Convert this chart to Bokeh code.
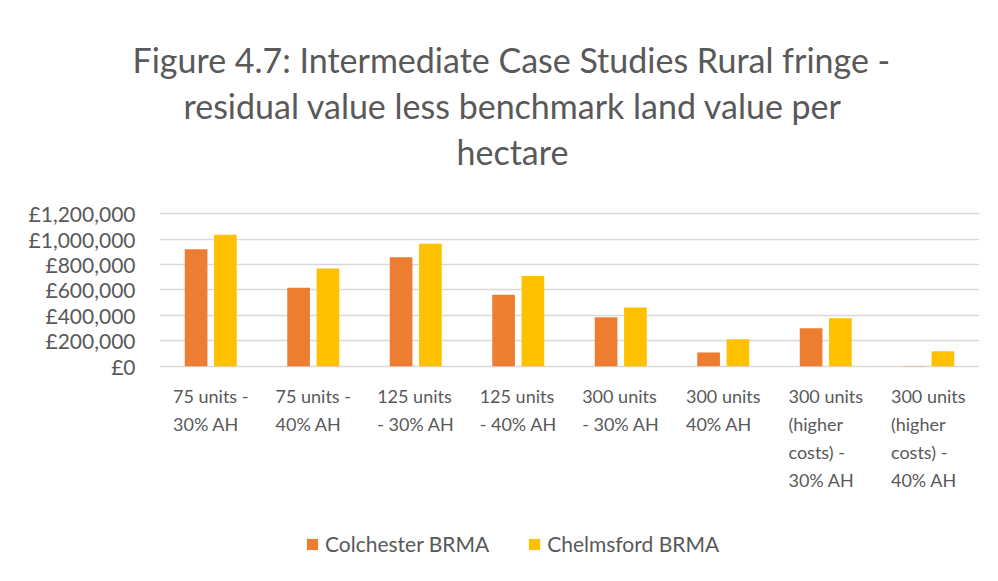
from bokeh.plotting import figure
from bokeh.models import (FactorRange, Range1d, FixedTicker, Legend, LegendItem,
                          Title, LabelSet, ColumnDataSource)
from bokeh.core.properties import value
from bokeh.transform import dodge
from bokeh.embed import file_html
from bokeh.resources import INLINE

category_labels = ["75 units -\n30% AH", "75 units -\n40% AH", "125 units\n- 30% AH",
                   "125 units\n- 40% AH", "300 units\n- 30% AH", "300 units\n40% AH",
                   "300 units\n(higher\ncosts) -\n30% AH", "300 units\n(higher\ncosts) -\n40% AH"]
colchester = [921000, 618000, 857000, 563000, 385000, 108000, 299000, 2000]
chelmsford = [1035000, 770000, 964000, 710000, 461000, 212000, 377000, 118000]
series_names = ["Colchester BRMA", "Chelmsford BRMA"]
tick_values = [0, 200000, 400000, 600000, 800000, 1000000, 1200000]
tick_labels = ["£0", "£200,000", "£400,000", "£600,000", "£800,000", "£1,000,000", "£1,200,000"]
title_lines = ["Figure 4.7: Intermediate Case Studies Rural fringe -",
               "residual value less benchmark land value per",
               "hectare"]

FONT = "Lato"
GREY = "#595959"

src = ColumnDataSource(dict(cat=category_labels, col=colchester, che=chelmsford,
                            zero=[0] * len(category_labels)))

# the plot area extends below zero so that the category labels and legend live inside it
p = figure(width=998, height=581, x_range=FactorRange(*category_labels),
           y_range=Range1d(-1695500, 1210000), output_backend="svg", toolbar_location=None,
           min_border_left=159, min_border_right=19, min_border_top=212, min_border_bottom=0)
p.x_range.range_padding = 0
p.outline_line_color = None
p.background_fill_color = "white"
p.border_fill_color = "white"

r1 = p.vbar(x=dodge("cat", -0.143, range=p.x_range), top="col", width=0.221, source=src,
            fill_color="#ED7D31", line_color=None)
r2 = p.vbar(x=dodge("cat", 0.143, range=p.x_range), top="che", width=0.221, source=src,
            fill_color="#FFC000", line_color=None)

p.xaxis.visible = False
p.xgrid.grid_line_color = None
p.ygrid.grid_line_color = "#D9D9D9"
p.ygrid.grid_line_width = 1.3

ya = p.yaxis[0]
ya.ticker = FixedTicker(ticks=tick_values)
ya.major_label_overrides = {v: l for v, l in zip(tick_values, tick_labels)}
ya.axis_line_color = None
ya.major_tick_line_color = None
ya.minor_tick_line_color = None
ya.major_tick_out = 0
ya.major_tick_in = 0
ya.major_label_standoff = 24
ya.major_label_text_font = FONT
ya.major_label_text_font_size = "21px"
ya.major_label_text_color = GREY

cat_text = LabelSet(x="cat", y="zero", text="cat", source=src, text_align="center",
                    text_baseline="top", y_offset=-19, text_font=value(FONT),
                    text_font_size=value("18px"), text_color=value(GREY),
                    text_line_height=1.27)
p.add_layout(cat_text)

# blank spacer between the title and the plot area
p.add_layout(Title(text=" ", text_font_size="30px", standoff=4), "above")

title_offsets = [-27, 24, 297]
for line, off in reversed(list(zip(title_lines, title_offsets))):
    t = Title(text=line, align="left", offset=off, text_font=FONT,
              text_font_size="34px", text_color=GREY, text_font_style="normal",
              standoff=3)
    p.add_layout(t, "above")

legend = Legend(items=[LegendItem(label=series_names[0], renderers=[r1]),
                       LegendItem(label=series_names[1], renderers=[r2])],
                orientation="horizontal", location=(146, 25),
                glyph_width=14, glyph_height=14, label_standoff=6, spacing=38,
                padding=0, margin=0, border_line_color=None, background_fill_alpha=0,
                label_text_font=FONT, label_text_font_size="21px", label_text_color=GREY)
p.add_layout(legend, "center")

open("out.html", "w").write(file_html(p, INLINE))
